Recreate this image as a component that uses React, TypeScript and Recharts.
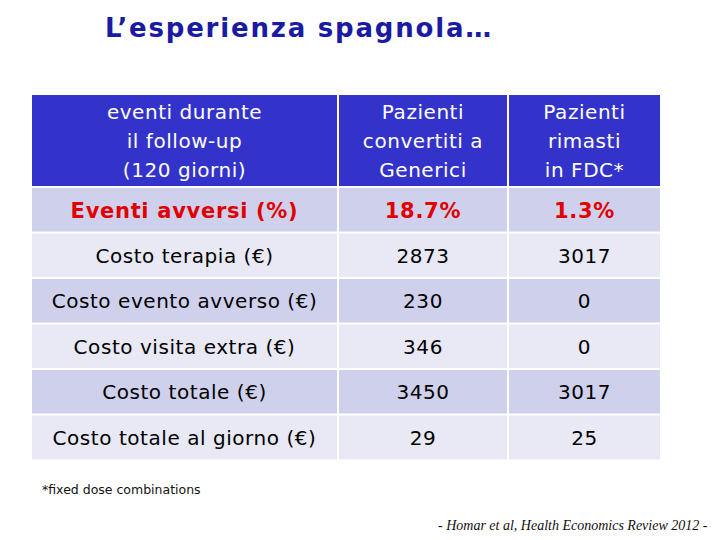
import React from 'react';
import { BarChart, Bar, XAxis, YAxis, Cell, LabelList } from 'recharts';

const headerLabels = [
  ['eventi durante', 'il follow-up', '(120 giorni)'],
  ['Pazienti', 'convertiti a', 'Generici'],
  ['Pazienti', 'rimasti', 'in FDC*'],
];
const rowLabels = [
  'Eventi avversi (%)',
  'Costo terapia (€)',
  'Costo evento avverso (€)',
  'Costo visita extra (€)',
  'Costo totale (€)',
  'Costo totale al giorno (€)',
];
const generici = ['18.7%', '2873', '230', '346', '3450', '29'];
const fdc = ['1.3%', '3017', '0', '0', '3017', '25'];

// layout only: relative column widths
const COL_W = [307, 170, 153];
const TOTAL_W = COL_W[0] + COL_W[1] + COL_W[2];
const FONT = 'DejaVu Sans, Verdana, sans-serif';
const KEYS = ['c0', 'c1', 'c2'];
const TXT = ['t0', 't1', 't2'];

const makeLabel = (color: (i: number) => string, bold: (i: number) => boolean) => (p: any) => {
  const { x, y, width, height, value, index } = p;
  const lines = String(value).split('|');
  const lh = 29;
  const b = bold(index);
  const cx = x + width / 2;
  const top = y + height / 2 - ((lines.length - 1) * lh) / 2;
  return (
    <text
      textAnchor="middle"
      fill={color(index)}
      fontFamily={FONT}
      fontSize={b ? 21 : 20}
      fontWeight={b ? 'bold' : 'normal'}
      letterSpacing={b ? 0.7 : 0.55}
    >
      {lines.map((l, i) => (
        <tspan key={i} x={cx} y={top + i * lh} dy="0.36em">
          {l}
        </tspan>
      ))}
    </text>
  );
};

const Table = ({ data, fills, color, bold, top, height }: any) => (
  <div style={{ position: 'absolute', left: 0, top: 0 }}>
    <BarChart
      width={720}
      height={540}
      data={data}
      layout="vertical"
      barCategoryGap={0}
      margin={{ top, right: 720 - 31 - TOTAL_W, bottom: 540 - top - height, left: 31 }}
    >
      <XAxis type="number" domain={[0, TOTAL_W]} hide />
      <YAxis type="category" dataKey="key" hide width={0} />
      {KEYS.map((k, c) => (
        <Bar key={k} dataKey={k} stackId="t" isAnimationActive={false} stroke="#ffffff" strokeWidth={2}>
          {data.map((_: any, i: number) => (
            <Cell key={i} fill={fills(i)} />
          ))}
          <LabelList dataKey={TXT[c]} content={makeLabel(color, bold)} />
        </Bar>
      ))}
    </BarChart>
  </div>
);

export default function App() {
  const header = [
    {
      key: 'header',
      c0: COL_W[0],
      c1: COL_W[1],
      c2: COL_W[2],
      t0: headerLabels[0].join('|'),
      t1: headerLabels[1].join('|'),
      t2: headerLabels[2].join('|'),
    },
  ];
  const rows = rowLabels.map((label, i) => ({
    key: label,
    c0: COL_W[0],
    c1: COL_W[1],
    c2: COL_W[2],
    t0: label,
    t1: generici[i],
    t2: fdc[i],
  }));

  return (
    <div style={{ position: 'absolute', left: 0, top: 0, width: 720, height: 540, background: '#fff' }}>
      <div
        style={{
          position: 'absolute',
          left: 105,
          top: 13,
          fontFamily: FONT,
          fontWeight: 'bold',
          fontSize: 26,
          letterSpacing: 1.8,
          color: '#1a1aa3',
          whiteSpace: 'nowrap',
        }}
      >
        L’esperienza spagnola…
      </div>
      <Table data={header} fills={() => '#3333cc'} color={() => '#ffffff'} bold={() => false} top={94} height={93} />
      <Table
        data={rows}
        fills={(i: number) => (i % 2 === 0 ? '#cfd0ec' : '#e8e9f5')}
        color={(i: number) => (i === 0 ? '#e00000' : '#000000')}
        bold={(i: number) => i === 0}
        top={187}
        height={273}
      />
      <div
        style={{
          position: 'absolute',
          left: 42,
          top: 482,
          fontFamily: FONT,
          fontSize: 12.5,
          color: '#111',
          whiteSpace: 'nowrap',
        }}
      >
        *fixed dose combinations
      </div>
      <div
        style={{
          position: 'absolute',
          left: 438,
          top: 518,
          fontFamily: 'Liberation Serif, serif',
          fontStyle: 'italic',
          fontSize: 14,
          color: '#111',
          whiteSpace: 'nowrap',
        }}
      >
        - Homar et al, Health Economics Review 2012 -
      </div>
    </div>
  );
}
